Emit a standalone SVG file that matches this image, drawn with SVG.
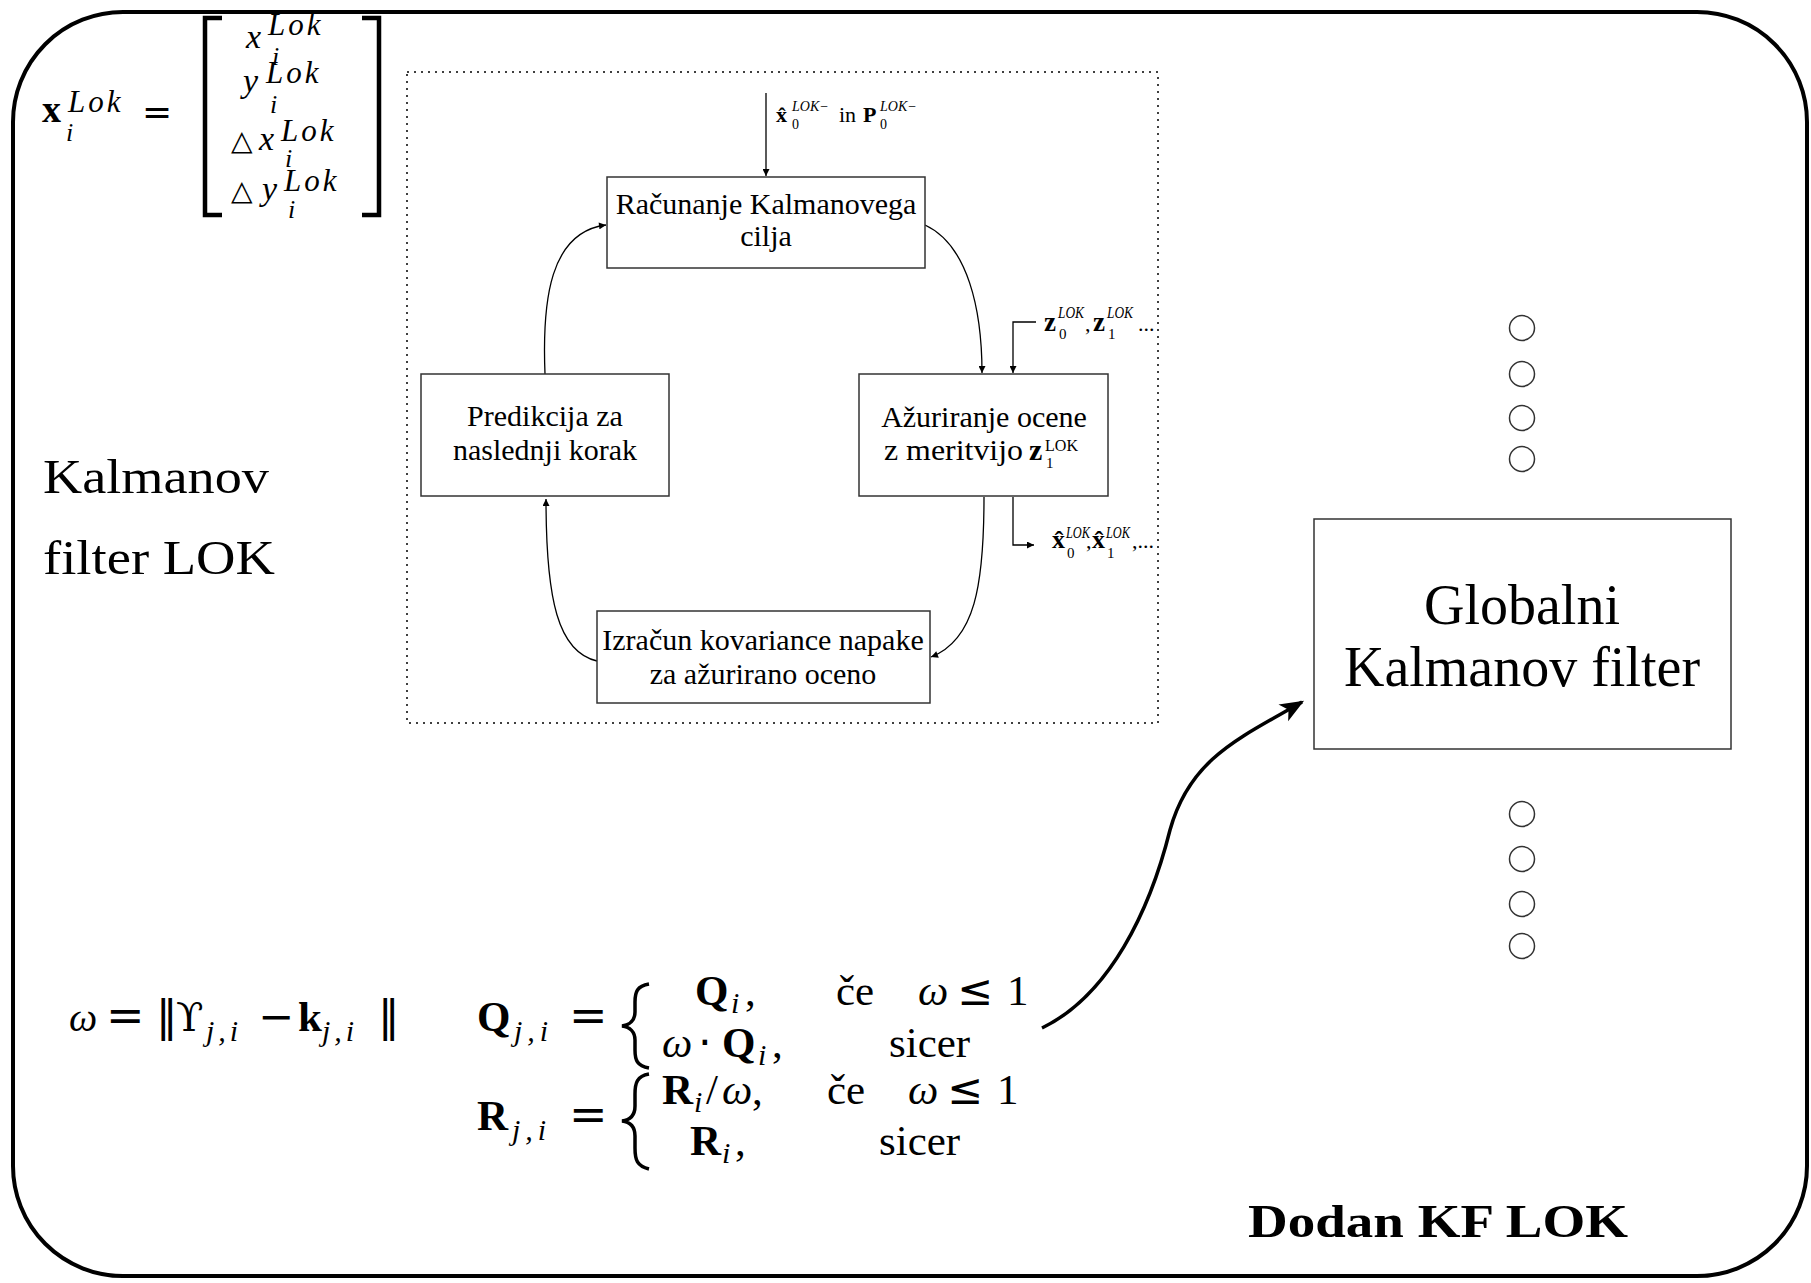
<svg xmlns="http://www.w3.org/2000/svg" width="1811" height="1283" viewBox="0 0 1811 1283">
<style>
.r{font-family:"Liberation Serif",serif}
.m{font-family:"Liberation Serif",serif;font-style:italic}
.b{font-family:"Liberation Serif",serif;font-weight:bold}
.op{font-family:"DejaVu Sans",sans-serif}
.box{fill:#fff;stroke:#333;stroke-width:1.5}
.bt{font-family:"Liberation Serif",serif;font-size:30px;text-anchor:middle}
.sup{font-family:"Liberation Serif",serif;font-style:italic;font-size:14px}
.sup2{font-family:"Liberation Serif",serif;font-style:italic;font-size:16px}
.conn{fill:none;stroke:#000;stroke-width:1.3}
.f43{font-size:43px}
.f30{font-size:30px}
.lok{font-family:"Liberation Serif",serif;font-style:italic;font-size:31px;letter-spacing:3px}
.circ{fill:#fff;stroke:#333;stroke-width:1.5}
</style>
<defs>
<marker id="ah" viewBox="0 0 10 10" refX="10" refY="5" markerWidth="9" markerHeight="7" orient="auto" markerUnits="userSpaceOnUse"><path d="M0,0 L10,5 L0,10 z" fill="#000"/></marker>
<marker id="big" viewBox="0 0 20 20" refX="18" refY="10" markerWidth="24" markerHeight="24" orient="auto" markerUnits="userSpaceOnUse"><path d="M0,2 L20,10 L0,18 L5,10 z" fill="#000"/></marker>
</defs>
<rect width="1811" height="1283" fill="#fff"/>
<rect id="frame" x="13" y="12" width="1794" height="1264" rx="110" ry="110" fill="none" stroke="#000" stroke-width="4"/>

<g id="state-vector">
<text class="b" x="42" y="122" font-size="38">x</text>
<text class="lok" x="68" y="112">Lok</text>
<text class="m" x="66" y="141" font-size="26">i</text>
<text class="op" x="142" y="124" font-size="36">=</text>
<path d="M222,18 H205 V215 H222" fill="none" stroke="#000" stroke-width="4.5"/>
<path d="M362,18 H379 V215 H362" fill="none" stroke="#000" stroke-width="4.5"/>
<text class="m" x="246" y="48" font-size="34">x</text>
<text class="lok" x="268" y="35">Lok</text>
<text class="m" x="272" y="65" font-size="26">i</text>
<text class="m" x="243" y="92" font-size="34">y</text>
<text class="lok" x="266" y="83">Lok</text>
<text class="m" x="270" y="113" font-size="26">i</text>
<text class="op" x="231" y="150" font-size="28">△</text>
<text class="m" x="259" y="150" font-size="34">x</text>
<text class="lok" x="281" y="141">Lok</text>
<text class="m" x="285" y="167" font-size="26">i</text>
<text class="op" x="231" y="200" font-size="28">△</text>
<text class="m" x="262" y="200" font-size="34">y</text>
<text class="lok" x="284" y="191">Lok</text>
<text class="m" x="288" y="218" font-size="26">i</text>
</g>

<g id="title-lok">
<text class="r" x="43" y="493" font-size="48" textLength="226" lengthAdjust="spacingAndGlyphs">Kalmanov</text>
<text class="r" x="43" y="574" font-size="48" textLength="232" lengthAdjust="spacingAndGlyphs">filter LOK</text>
</g>

<rect id="lok-frame" x="407" y="72" width="751" height="651" fill="none" stroke="#000" stroke-width="1.5" stroke-dasharray="2 5"/>

<g id="connectors">
<line class="conn" x1="766" y1="93" x2="766" y2="176" marker-end="url(#ah)"/>
<path class="conn" d="M925,225 C968,245 982,310 982,373" marker-end="url(#ah)"/>
<path class="conn" d="M984,497 C984,585 975,640 931,657" marker-end="url(#ah)"/>
<path class="conn" d="M597,661 C558,652 546,600 546,499" marker-end="url(#ah)"/>
<path class="conn" d="M545,374 C542,300 550,232 606,225" marker-end="url(#ah)"/>
<path class="conn" d="M1036,322 H1013 V373" marker-end="url(#ah)"/>
<path class="conn" d="M1013,497 V545 H1034" marker-end="url(#ah)"/>
<path d="M1042,1028 C1110,995 1150,910 1170,830 C1190,758 1240,738 1302,702" fill="none" stroke="#000" stroke-width="3.5" marker-end="url(#big)"/>
</g>

<g id="init-label">
<text class="b" x="776" y="122" font-size="22">x̂</text>
<text class="sup" x="792" y="111">LOK−</text>
<text class="r" x="792" y="129" font-size="14">0</text>
<text class="r" x="839" y="122" font-size="22">in</text>
<text class="b" x="863" y="122" font-size="22">P</text>
<text class="sup" x="880" y="111">LOK−</text>
<text class="r" x="880" y="129" font-size="14">0</text>
</g>

<g id="meas-label">
<text class="b" x="1044" y="331" font-size="27">z</text>
<text class="sup2" x="1058" y="318" textLength="26" lengthAdjust="spacingAndGlyphs">LOK</text>
<text class="r" x="1059" y="339" font-size="15">0</text>
<text class="r" x="1085" y="331" font-size="22">,</text>
<text class="b" x="1093" y="331" font-size="27">z</text>
<text class="sup2" x="1107" y="318" textLength="26" lengthAdjust="spacingAndGlyphs">LOK</text>
<text class="r" x="1108" y="339" font-size="15">1</text>
<text class="r" x="1138" y="331" font-size="22">...</text>
</g>

<g id="out-label">
<text class="b" x="1052" y="548" font-size="26">x̂</text>
<text class="sup2" x="1066" y="538" textLength="24" lengthAdjust="spacingAndGlyphs">LOK</text>
<text class="r" x="1067" y="558" font-size="15">0</text>
<text class="r" x="1086" y="548" font-size="22">,</text>
<text class="b" x="1092" y="548" font-size="26">x̂</text>
<text class="sup2" x="1106" y="538" textLength="24" lengthAdjust="spacingAndGlyphs">LOK</text>
<text class="r" x="1107" y="558" font-size="15">1</text>
<text class="r" x="1132" y="548" font-size="22">,...</text>
</g>

<g id="node-racunanje">
<rect class="box" x="607" y="177" width="318" height="91"/>
<text class="bt" x="766" y="214">Računanje Kalmanovega</text>
<text class="bt" x="766" y="246">cilja</text>
</g>

<g id="node-azuriranje">
<rect class="box" x="859" y="374" width="249" height="122"/>
<text class="bt" x="984" y="427">Ažuriranje ocene</text>
<text class="r" x="884" y="460" font-size="30" textLength="139" lengthAdjust="spacingAndGlyphs">z meritvijo</text>
<text class="b" x="1029" y="460" font-size="30">z</text>
<text class="r" x="1045" y="451" font-size="17" textLength="33" lengthAdjust="spacingAndGlyphs">LOK</text>
<text class="r" x="1046" y="468" font-size="15">1</text>
</g>

<g id="node-izracun">
<rect class="box" x="597" y="611" width="333" height="92"/>
<text class="bt" x="763" y="650">Izračun kovariance napake</text>
<text class="bt" x="763" y="684">za ažurirano oceno</text>
</g>

<g id="node-predikcija">
<rect class="box" x="421" y="374" width="248" height="122"/>
<text class="bt" x="545" y="426">Predikcija za</text>
<text class="bt" x="545" y="460">naslednji korak</text>
</g>

<g id="node-global">
<rect class="box" x="1314" y="519" width="417" height="230"/>
<text class="r" x="1522" y="624" font-size="56" text-anchor="middle">Globalni</text>
<text class="r" x="1522" y="686" font-size="56" text-anchor="middle">Kalmanov filter</text>
</g>

<g id="dots-top">
<circle class="circ" cx="1522" cy="328" r="12.5"/>
<circle class="circ" cx="1522" cy="374" r="12.5"/>
<circle class="circ" cx="1522" cy="418" r="12.5"/>
<circle class="circ" cx="1522" cy="459" r="12.5"/>
</g>
<g id="dots-bottom">
<circle class="circ" cx="1522" cy="814" r="12.5"/>
<circle class="circ" cx="1522" cy="859" r="12.5"/>
<circle class="circ" cx="1522" cy="904" r="12.5"/>
<circle class="circ" cx="1522" cy="946" r="12.5"/>
</g>

<g id="omega-eq">
<text class="m" x="69" y="1031" font-size="40">ω</text>
<text class="op" x="106" y="1031" font-size="46">=</text>
<text class="op f43" x="156" y="1031">‖</text>
<text font-family="DejaVu Serif, serif" font-size="40" x="176" y="1031">ϒ</text>
<text class="m f30" x="206" y="1041" letter-spacing="4">j,i</text>
<text class="op f43" x="258" y="1031">−</text>
<text class="b f43" x="298" y="1031">k</text>
<text class="m f30" x="322" y="1041" letter-spacing="4">j,i</text>
<text class="op f43" x="378" y="1031">‖</text>
</g>

<g id="q-eq">
<text class="b f43" x="477" y="1031">Q</text>
<text class="m f30" x="514" y="1041" letter-spacing="5">j,i</text>
<text class="op" x="569" y="1031" font-size="46">=</text>
<path d="M649,984 C637,986 635,992 635,1002 L635,1012 C635,1020 630,1025 622,1026 C630,1027 635,1032 635,1040 L635,1050 C635,1060 637,1066 649,1068" fill="none" stroke="#000" stroke-width="3.5"/>
<text class="b f43" x="695" y="1005">Q</text>
<text class="m f30" x="731" y="1013">i</text>
<text class="r f43" x="745" y="1005">,</text>
<text class="r f43" x="836" y="1005">če</text>
<text class="m f43" x="918" y="1005">ω</text>
<text class="op f43" x="957" y="1005">≤</text>
<text class="r f43" x="1007" y="1005">1</text>
<text class="m f43" x="662" y="1057">ω</text>
<text class="op f43" x="698" y="1057">·</text>
<text class="b f43" x="722" y="1057">Q</text>
<text class="m f30" x="758" y="1065">i</text>
<text class="r f43" x="772" y="1057">,</text>
<text class="r f43" x="889" y="1057">sicer</text>
</g>

<g id="r-eq">
<text class="b f43" x="477" y="1130">R</text>
<text class="m f30" x="512" y="1140" letter-spacing="5">j,i</text>
<text class="op" x="569" y="1130" font-size="46">=</text>
<path d="M649,1074 C637,1076 635,1083 635,1094 L635,1106 C635,1115 630,1120 622,1121 C630,1122 635,1127 635,1136 L635,1148 C635,1160 637,1166 649,1169" fill="none" stroke="#000" stroke-width="3.5"/>
<text class="b f43" x="662" y="1104">R</text>
<text class="m f30" x="694" y="1112">i</text>
<text class="r f43" x="706" y="1104">/</text>
<text class="m f43" x="722" y="1104">ω</text>
<text class="r f43" x="752" y="1104">,</text>
<text class="r f43" x="827" y="1104">če</text>
<text class="m f43" x="908" y="1104">ω</text>
<text class="op f43" x="947" y="1104">≤</text>
<text class="r f43" x="997" y="1104">1</text>
<text class="b f43" x="690" y="1155">R</text>
<text class="m f30" x="722" y="1163">i</text>
<text class="r f43" x="735" y="1155">,</text>
<text class="r f43" x="879" y="1155">sicer</text>
</g>

<g id="footer">
<text class="b" x="1248" y="1237" font-size="47" textLength="380" lengthAdjust="spacingAndGlyphs">Dodan KF LOK</text>
</g>
</svg>
